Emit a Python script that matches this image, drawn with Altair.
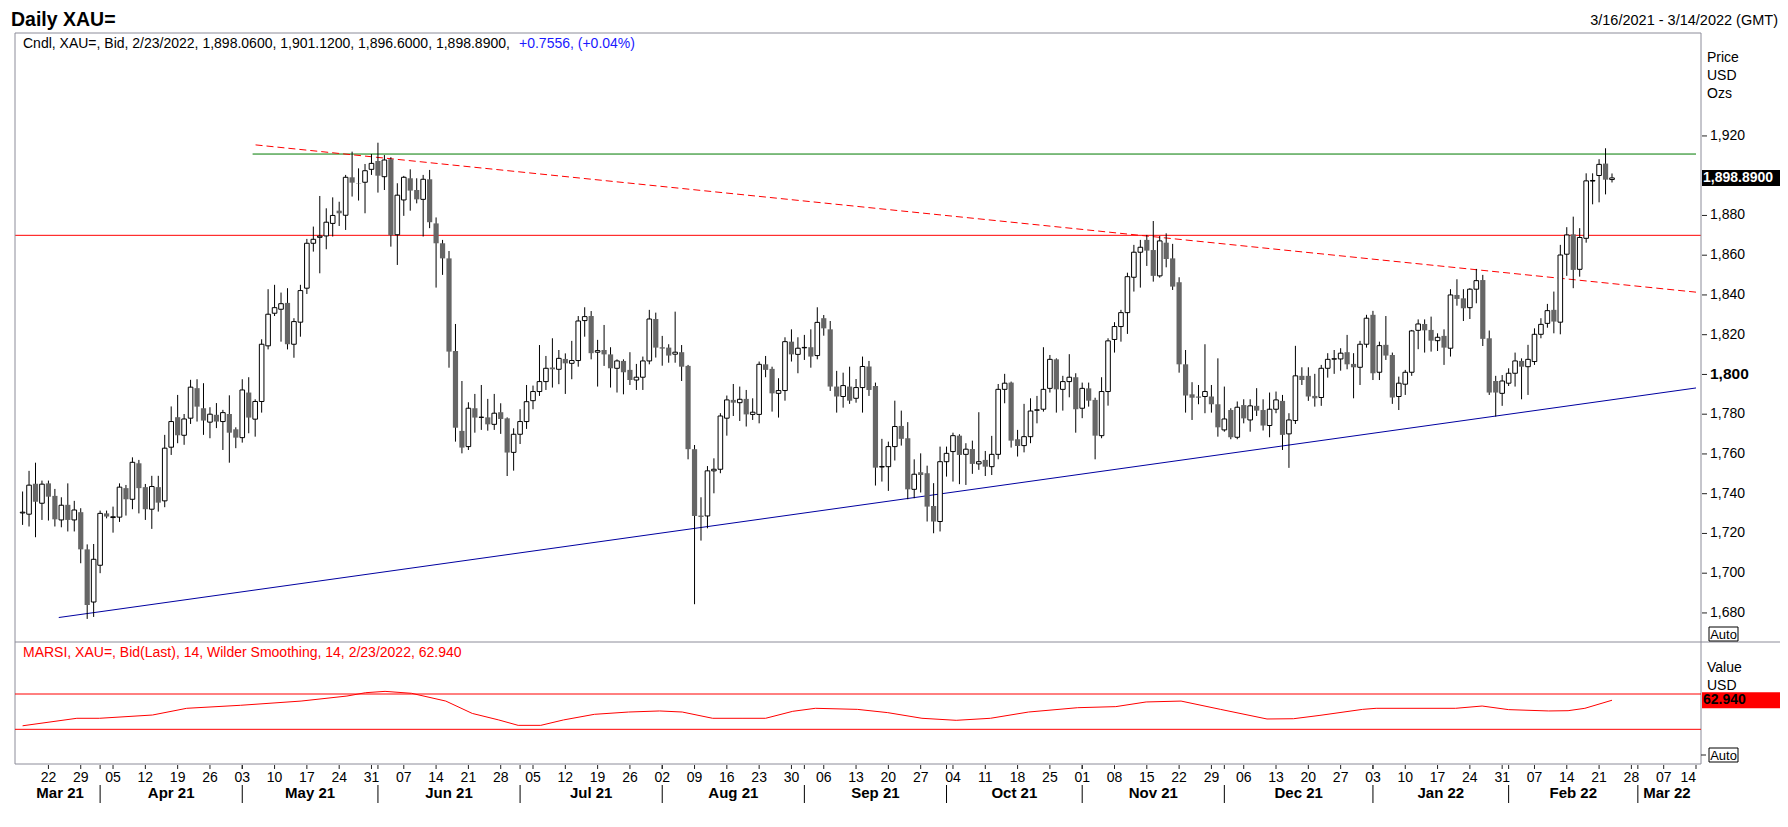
import altair as alt
import pandas as pd

FONT = "Liberation Sans"
FRAME = "#8c8c99"

# ---------------- data ----------------
opens = [
    1730.3, 1729.7, 1745.0, 1735.2, 1745.2, 1738.9, 1726.8, 1734.4, 1726.8, 1730.7,
    1712.0, 1685.5, 1704.0, 1730.1, 1728.0, 1728.2, 1742.8, 1737.2, 1755.3, 1743.3,
    1732.2, 1743.3, 1736.4, 1763.4, 1778.5, 1769.4, 1778.0, 1793.1, 1783.0, 1776.0,
    1779.7, 1776.3, 1780.1, 1772.4, 1768.2, 1790.9, 1777.5, 1786.4, 1814.4, 1830.8,
    1832.8, 1836.0, 1815.2, 1826.3, 1843.4, 1866.0, 1869.0, 1869.7, 1876.0, 1882.4,
    1880.1, 1899.2, 1896.2, 1896.7, 1903.2, 1907.4, 1899.5, 1908.3, 1870.3, 1887.8,
    1898.7, 1892.8, 1888.1, 1898.2, 1876.0, 1866.0, 1858.4, 1811.8, 1771.6, 1763.7,
    1783.0, 1778.4, 1778.4, 1774.9, 1781.0, 1777.9, 1760.8, 1769.9, 1776.3, 1786.8,
    1791.4, 1796.4, 1803.5, 1802.6, 1807.8, 1805.6, 1807.0, 1827.1, 1829.4, 1811.2,
    1812.3, 1810.1, 1803.1, 1806.8, 1802.3, 1797.2, 1798.6, 1806.8, 1827.9, 1813.7,
    1813.5, 1810.2, 1811.2, 1804.3, 1762.4, 1729.0, 1728.8, 1751.5, 1752.3, 1778.0,
    1787.2, 1785.8, 1787.7, 1779.9, 1779.9, 1805.1, 1802.8, 1790.5, 1791.9, 1816.5,
    1810.1, 1813.4, 1813.7, 1809.5, 1828.3, 1822.7, 1793.9, 1788.9, 1793.9, 1788.0,
    1793.4, 1804.0, 1794.2, 1753.4, 1753.6, 1763.7, 1774.1, 1767.9, 1742.2, 1750.8,
    1750.3, 1733.8, 1726.0, 1756.1, 1761.2, 1769.2, 1759.8, 1762.5, 1755.0, 1757.0,
    1753.6, 1759.8, 1792.5, 1795.9, 1767.4, 1764.2, 1768.7, 1782.0, 1782.5, 1793.0,
    1807.6, 1792.5, 1796.4, 1798.6, 1783.0, 1793.0, 1787.2, 1769.2, 1791.4, 1817.6,
    1824.1, 1831.1, 1848.9, 1861.5, 1867.7, 1862.6, 1849.6, 1866.3, 1858.4, 1846.4,
    1805.1, 1790.0, 1788.9, 1788.9, 1788.9, 1785.0, 1772.1, 1782.1, 1768.4, 1784.6,
    1777.1, 1784.2, 1782.1, 1774.3, 1782.5, 1786.7, 1770.1, 1776.8, 1799.3, 1799.3,
    1789.2, 1788.4, 1803.1, 1807.7, 1807.8, 1811.2, 1805.3, 1803.6, 1815.2, 1830.0,
    1801.1, 1814.9, 1809.8, 1788.9, 1795.1, 1801.1, 1822.2, 1825.4, 1822.4, 1817.0,
    1819.4, 1813.2, 1840.0, 1838.3, 1833.6, 1842.9, 1847.5, 1818.2, 1796.7, 1790.5,
    1795.6, 1800.6, 1806.8, 1803.9, 1806.5, 1820.2, 1825.7, 1832.5, 1826.3, 1860.5,
    1870.5, 1852.9, 1868.5, 1897.3, 1900.1, 1906.1, 1898.06,
]
highs = [
    1741.1, 1751.5, 1755.6, 1746.6, 1746.6, 1742.4, 1738.2, 1745.2, 1736.4, 1732.7,
    1714.5, 1714.7, 1731.5, 1731.5, 1733.5, 1745.2, 1744.4, 1758.3, 1757.0, 1744.9,
    1749.0, 1749.0, 1769.6, 1783.9, 1789.7, 1780.1, 1797.3, 1797.6, 1795.6, 1783.5,
    1785.6, 1782.2, 1789.5, 1773.4, 1797.6, 1798.6, 1787.5, 1817.7, 1842.9, 1845.1,
    1841.2, 1843.4, 1828.3, 1845.1, 1868.2, 1874.4, 1889.8, 1883.6, 1889.1, 1886.9,
    1900.4, 1912.1, 1903.7, 1905.9, 1910.9, 1916.6, 1910.4, 1909.3, 1896.2, 1899.9,
    1903.2, 1898.7, 1900.4, 1902.9, 1879.0, 1867.7, 1862.1, 1825.4, 1796.7, 1786.0,
    1790.2, 1794.7, 1787.7, 1790.2, 1785.5, 1778.4, 1772.9, 1782.5, 1794.7, 1794.4,
    1814.8, 1809.3, 1818.2, 1812.3, 1810.6, 1816.9, 1829.4, 1833.8, 1831.9, 1817.4,
    1824.9, 1813.7, 1807.6, 1807.6, 1811.2, 1805.3, 1809.0, 1832.5, 1831.1, 1819.4,
    1815.2, 1831.6, 1814.8, 1804.8, 1764.5, 1738.2, 1753.9, 1757.8, 1780.5, 1789.4,
    1795.2, 1793.9, 1792.2, 1788.0, 1806.5, 1809.3, 1803.9, 1798.1, 1818.7, 1822.7,
    1818.7, 1819.9, 1822.7, 1833.8, 1829.9, 1826.9, 1801.8, 1800.9, 1803.9, 1797.7,
    1809.0, 1806.8, 1795.9, 1767.6, 1766.2, 1786.8, 1781.8, 1776.0, 1757.3, 1760.3,
    1754.1, 1745.3, 1763.7, 1763.7, 1770.7, 1769.9, 1765.4, 1766.7, 1781.0, 1761.5,
    1769.1, 1795.2, 1800.3, 1796.4, 1772.1, 1785.2, 1788.0, 1789.2, 1813.7, 1809.8,
    1808.1, 1799.3, 1810.2, 1800.6, 1795.9, 1795.9, 1788.3, 1798.6, 1818.2, 1826.3,
    1832.5, 1851.2, 1865.2, 1867.7, 1870.2, 1877.2, 1869.7, 1871.0, 1865.7, 1848.9,
    1812.3, 1796.1, 1794.7, 1815.2, 1794.7, 1808.1, 1793.9, 1783.0, 1786.4, 1787.5,
    1787.5, 1793.1, 1787.5, 1790.9, 1791.4, 1789.7, 1780.5, 1814.4, 1803.6, 1803.6,
    1800.3, 1804.8, 1810.7, 1812.3, 1813.2, 1819.9, 1810.7, 1816.9, 1830.0, 1832.0,
    1816.5, 1829.4, 1811.0, 1798.9, 1802.3, 1822.4, 1827.7, 1827.7, 1829.1, 1820.7,
    1822.7, 1842.9, 1847.9, 1842.9, 1843.4, 1853.1, 1850.1, 1822.1, 1799.3, 1799.7,
    1803.1, 1811.0, 1808.1, 1814.9, 1823.2, 1828.3, 1835.5, 1841.7, 1865.2, 1874.1,
    1879.4, 1873.6, 1901.2, 1901.2, 1908.3, 1913.8, 1901.12,
]
lows = [
    1724.3, 1723.5, 1718.1, 1726.8, 1726.5, 1723.5, 1723.1, 1721.0, 1721.0, 1705.0,
    1677.0, 1678.0, 1700.0, 1727.6, 1720.4, 1725.8, 1729.0, 1732.2, 1730.1, 1726.8,
    1722.3, 1731.0, 1733.2, 1759.5, 1765.4, 1764.6, 1775.1, 1776.3, 1769.6, 1767.9,
    1773.0, 1762.0, 1755.6, 1762.9, 1765.7, 1770.4, 1768.7, 1780.8, 1812.6, 1829.4,
    1816.5, 1812.6, 1808.4, 1819.0, 1840.5, 1861.8, 1850.9, 1863.0, 1869.4, 1874.7,
    1872.7, 1889.5, 1887.5, 1881.1, 1900.4, 1891.5, 1892.8, 1864.3, 1855.1, 1879.8,
    1882.4, 1886.1, 1869.4, 1873.6, 1843.7, 1850.1, 1803.4, 1766.2, 1760.3, 1762.0,
    1770.7, 1772.1, 1771.7, 1772.1, 1770.1, 1748.9, 1751.6, 1765.0, 1772.6, 1782.5,
    1789.2, 1792.2, 1793.4, 1795.1, 1790.2, 1797.6, 1803.9, 1819.0, 1807.6, 1793.9,
    1804.3, 1793.4, 1790.9, 1790.0, 1794.7, 1792.2, 1792.2, 1805.1, 1808.5, 1804.4,
    1805.9, 1805.9, 1796.7, 1757.3, 1684.4, 1716.4, 1722.6, 1740.2, 1750.3, 1769.2,
    1779.1, 1776.6, 1773.8, 1777.1, 1775.4, 1798.6, 1781.3, 1778.3, 1786.8, 1806.5,
    1800.6, 1807.3, 1803.4, 1807.6, 1819.5, 1791.7, 1780.8, 1783.3, 1785.2, 1785.8,
    1780.8, 1789.2, 1744.1, 1746.1, 1741.4, 1756.7, 1764.2, 1737.2, 1737.7, 1740.6,
    1726.0, 1720.1, 1721.0, 1748.6, 1746.1, 1744.8, 1744.4, 1750.0, 1752.0, 1748.9,
    1749.4, 1757.3, 1785.5, 1763.2, 1758.7, 1760.8, 1765.4, 1775.4, 1781.3, 1790.9,
    1780.8, 1781.8, 1788.5, 1770.7, 1778.0, 1783.8, 1757.3, 1767.9, 1784.3, 1811.0,
    1816.5, 1820.4, 1841.7, 1843.7, 1854.6, 1846.7, 1848.7, 1853.9, 1842.5, 1800.9,
    1780.8, 1777.1, 1785.0, 1780.5, 1780.8, 1768.7, 1771.2, 1767.4, 1767.4, 1775.4,
    1771.2, 1779.1, 1771.8, 1768.4, 1780.5, 1762.0, 1753.0, 1775.1, 1794.7, 1786.7,
    1783.8, 1784.2, 1798.4, 1800.3, 1801.9, 1802.6, 1788.0, 1794.7, 1813.5, 1797.2,
    1797.2, 1807.3, 1785.2, 1782.1, 1789.7, 1799.3, 1812.7, 1811.0, 1811.5, 1811.8,
    1804.8, 1809.0, 1834.6, 1826.9, 1827.9, 1835.8, 1814.3, 1789.7, 1778.8, 1784.2,
    1794.2, 1793.9, 1787.5, 1789.7, 1804.8, 1818.2, 1823.5, 1820.7, 1820.2, 1849.6,
    1843.4, 1849.2, 1866.3, 1885.6, 1886.6, 1890.6, 1896.6,
]
closes = [
    1730.7, 1744.3, 1736.0, 1744.8, 1738.5, 1727.1, 1734.2, 1726.8, 1731.8, 1712.0,
    1684.0, 1707.0, 1730.1, 1728.5, 1728.4, 1743.3, 1737.2, 1755.8, 1742.8, 1732.2,
    1743.6, 1735.5, 1762.9, 1776.3, 1769.4, 1777.6, 1793.6, 1783.8, 1776.8, 1780.0,
    1776.3, 1780.8, 1770.7, 1768.2, 1792.2, 1778.3, 1786.4, 1815.2, 1830.3, 1833.6,
    1835.6, 1815.2, 1826.6, 1842.2, 1866.0, 1868.0, 1869.6, 1876.6, 1880.0, 1881.1,
    1899.2, 1896.5, 1896.0, 1902.5, 1906.2, 1900.0, 1907.9, 1870.0, 1890.2, 1899.2,
    1892.5, 1888.1, 1898.2, 1876.6, 1866.0, 1858.4, 1811.5, 1773.2, 1763.2, 1783.0,
    1778.3, 1778.5, 1774.9, 1780.5, 1777.6, 1760.7, 1769.9, 1776.3, 1786.3, 1791.4,
    1796.4, 1803.1, 1802.6, 1808.1, 1805.6, 1807.0, 1826.9, 1829.1, 1810.7, 1812.0,
    1810.1, 1803.1, 1806.8, 1801.1, 1797.2, 1798.6, 1806.8, 1827.9, 1813.5, 1813.0,
    1809.5, 1811.2, 1803.9, 1762.4, 1728.8, 1728.3, 1751.5, 1752.3, 1779.1, 1787.2,
    1785.8, 1787.5, 1779.9, 1781.0, 1805.1, 1802.3, 1790.5, 1791.9, 1816.5, 1810.1,
    1813.2, 1813.6, 1809.0, 1826.2, 1823.2, 1793.9, 1788.9, 1794.4, 1786.8, 1793.4,
    1804.0, 1792.2, 1753.1, 1753.7, 1763.7, 1773.8, 1767.6, 1742.2, 1749.8, 1749.4,
    1733.5, 1726.0, 1756.1, 1760.3, 1769.2, 1759.5, 1762.4, 1755.0, 1756.1, 1753.6,
    1759.8, 1792.5, 1795.6, 1766.7, 1764.0, 1768.7, 1781.6, 1782.2, 1792.5, 1807.6,
    1792.5, 1796.4, 1798.6, 1782.5, 1793.0, 1786.8, 1769.2, 1791.4, 1816.9, 1824.1,
    1831.1, 1849.2, 1861.5, 1864.0, 1862.3, 1849.6, 1867.2, 1858.1, 1844.2, 1805.1,
    1789.4, 1788.3, 1788.3, 1791.4, 1785.0, 1773.4, 1777.6, 1768.4, 1783.5, 1777.9,
    1784.2, 1781.8, 1774.3, 1782.5, 1787.2, 1769.6, 1777.1, 1799.3, 1797.2, 1788.9,
    1788.0, 1803.1, 1807.6, 1807.9, 1810.7, 1805.1, 1803.6, 1815.2, 1828.3, 1800.6,
    1814.5, 1809.5, 1788.4, 1795.6, 1801.1, 1821.9, 1825.4, 1822.2, 1817.0, 1818.7,
    1813.5, 1840.0, 1838.0, 1833.3, 1842.9, 1847.2, 1817.9, 1790.9, 1790.9, 1796.7,
    1800.6, 1806.8, 1803.9, 1807.6, 1820.2, 1825.2, 1832.1, 1826.6, 1860.1, 1870.2,
    1852.6, 1868.9, 1897.4, 1897.6, 1905.7, 1898.0, 1898.89,
]

# MARSI (smoothed RSI) points: trading-day index / value
rsi_idx = [0, 8.4, 11.9, 20.1, 25.4, 33.7, 43.1, 50.2, 53.1, 56.1, 60.2, 65.5, 69.6,
           73.7, 76.7, 80.2, 83.7, 88.5, 93.8, 98.6, 102.1, 106.8, 111.5, 115.0, 119.2,
           122.7, 129.2, 133.9, 139.2, 144.5, 149.8, 155.7, 163.3, 169.2, 173.9, 179.3,
           185.4, 192.6, 196.7, 200.8, 207.4, 209.5, 221.8, 225.9, 230.0, 236.2, 239.2,
           241.8, 246]
rsi_val = [34.0, 42.5, 42.5, 46.2, 53.8, 57.2, 62.0, 67.7, 71.5, 73.0, 70.8, 62.0, 48.0,
           40.6, 34.5, 34.5, 40.6, 47.0, 49.6, 50.8, 49.6, 42.5, 42.5, 42.5, 50.4,
           53.8, 52.6, 48.9, 42.5, 40.2, 42.5, 49.6, 54.5, 55.7, 61.0, 62.0,
           52.6, 41.7, 42.0, 45.8, 52.6, 53.8, 53.8, 56.4, 52.3, 50.8, 51.1,
           53.8, 62.94]

price_ticks = [1680, 1700, 1720, 1740, 1760, 1780, 1800, 1820, 1840, 1860, 1880, 1900, 1920]
bold_tick = 1800
resistance_level = 1870
top_level = 1910.9
support_x, support_y = [5.6, 259], [1677.7, 1793.2]
falling_x, falling_y = [36.06, 259], [1915.5, 1841.4]
top_x = [35.6, 259]
rsi_levels = [70, 30]
last_close = 1898.89
last_rsi = 62.94

# trading-day calendar of the chart window 3/16/2021 - 3/14/2022
dates = pd.bdate_range("2021-03-16", "2022-03-14")
X_MIN, X_MAX = -0.4, len(dates) - 1
day_tick_idx = [i for i, d in enumerate(dates) if d.weekday() == 0]
day_tick_lab = [dates[i].strftime("%d") for i in day_tick_idx]
month_start_idx = [i for i in range(1, len(dates)) if dates[i].month != dates[i - 1].month]
month_names = [dates[0].strftime("%b %y")] + [dates[i].strftime("%b %y") for i in month_start_idx]
bounds = [X_MIN] + month_start_idx + [X_MAX]
month_mid = [(bounds[k] + bounds[k + 1]) / 2 for k in range(len(month_names))]

candles = pd.DataFrame({"i": list(range(len(opens))), "o": opens, "h": highs, "l": lows, "c": closes})

# ---------------- scales ----------------
W, H = 1686, 731
xscale = alt.Scale(domain=[X_MIN, X_MAX], nice=False, zero=False)
pscale = alt.Scale(domain=[1604.0, 1971.8], nice=False, zero=False)
rscale = alt.Scale(domain=[-9.3, 819.0], nice=False, zero=False)


def X(f):
    return alt.X(f, scale=xscale, axis=None)


def PY(f):
    return alt.Y(f, scale=pscale, axis=None)


def RY(f):
    return alt.Y(f, scale=rscale, axis=None)


def one(**kw):
    return pd.DataFrame({k: [v] for k, v in kw.items()}) if kw else pd.DataFrame({"a": [0]})


def txt(s, x, y, size=14, color="black", weight="normal", align="left", baseline="middle"):
    return alt.Chart(one(t=s)).mark_text(align=align, baseline=baseline, fontSize=size, color=color,
                                          fontWeight=weight, font=FONT).encode(
        x=alt.value(x), y=alt.value(y), text="t:N")


def prule(x, x2, y, y2=None, color=FRAME, width=1):
    enc = dict(x=alt.value(x), y=alt.value(y))
    if x2 is not None:
        enc["x2"] = alt.value(x2)
    if y2 is not None:
        enc["y2"] = alt.value(y2)
    return alt.Chart(one()).mark_rule(color=color, strokeWidth=width).encode(**enc)


# ---------------- price panel ----------------
wicks = alt.Chart(candles).mark_rule(color="black", strokeWidth=1).encode(
    x=X("i:Q"), y=PY("l:Q"), y2="h:Q")
up = alt.Chart(candles).transform_filter("datum.c >= datum.o").mark_bar(
    size=4.6, fill="white", stroke="black", strokeWidth=1).encode(x=X("i:Q"), y=PY("o:Q"), y2="c:Q")
down = alt.Chart(candles).transform_filter("datum.c < datum.o").mark_bar(
    size=5.2, fill="#666666").encode(x=X("i:Q"), y=PY("o:Q"), y2="c:Q")

res_line = alt.Chart(one(y=resistance_level)).mark_rule(color="#ff0000", strokeWidth=1).encode(y=PY("y:Q"))
top_line = alt.Chart(pd.DataFrame({"x": top_x, "y": [top_level, top_level]})).mark_line(
    color="#007a00", strokeWidth=1).encode(x=X("x:Q"), y=PY("y:Q"))
support = alt.Chart(pd.DataFrame({"x": support_x, "y": support_y})).mark_line(
    color="#0000a0", strokeWidth=1).encode(x=X("x:Q"), y=PY("y:Q"))
falling = alt.Chart(pd.DataFrame({"x": falling_x, "y": falling_y})).mark_line(
    color="#ff0000", strokeWidth=1, strokeDash=[7, 4]).encode(x=X("x:Q"), y=PY("y:Q"))

# price scale ticks + labels (right side); the label under the last-price box is hidden
ptick_df = pd.DataFrame({"p": price_ticks, "lab": [f"{p:,}" for p in price_ticks]})
p_ticks = alt.Chart(ptick_df).mark_rule(color="#222222", strokeWidth=1).encode(
    x=alt.value(W + 1), x2=alt.value(W + 6), y=PY("p:Q"))
p_labs = alt.Chart(ptick_df).transform_filter(
    f"datum.p != {bold_tick} && abs(datum.p - {last_close}) > 8").mark_text(
    align="left", baseline="middle", fontSize=14, font=FONT, color="black").encode(
    x=alt.value(W + 9), y=PY("p:Q"), text="lab:N")
p_lab_bold = alt.Chart(ptick_df).transform_filter(f"datum.p == {bold_tick}").mark_text(
    align="left", baseline="middle", fontSize=15.5, fontWeight="bold", font=FONT, color="black").encode(
    x=alt.value(W + 9), y=PY("p:Q"), text="lab:N")

last_box = alt.Chart(one(v=last_close)).mark_rule(color="black", strokeWidth=16, strokeCap="butt").encode(
    x=alt.value(W + 1), x2=alt.value(W + 79), y=PY("v:Q"))
last_txt = alt.Chart(one(v=last_close, t=f"{last_close:,.4f}")).mark_text(
    align="left", baseline="middle", color="white", fontWeight="bold", fontSize=14, font=FONT).encode(
    x=alt.value(W + 2), y=PY("v:Q"), text="t:N")

# date axis: Monday ticks + day numbers, month names and separators
day_df = pd.DataFrame({"d": day_tick_idx, "lab": day_tick_lab})
d_ticks = alt.Chart(day_df).mark_rule(color="#222222", strokeWidth=1).encode(
    x=X("d:Q"), y=alt.value(H + 1), y2=alt.value(H + 5))
d_labs = alt.Chart(day_df).transform_filter(f"datum.d < {X_MAX}").mark_text(
    align="center", baseline="middle", fontSize=14, font=FONT, color="black").encode(
    x=X("d:Q"), y=alt.value(H + 14), text="lab:N")
d_last = alt.Chart(day_df).transform_filter(f"datum.d >= {X_MAX}").mark_text(
    align="right", baseline="middle", fontSize=14, font=FONT, color="black").encode(
    x=X("d:Q"), y=alt.value(H + 14), text="lab:N")

month_df = pd.DataFrame({"mid": month_mid, "name": month_names})
month_txt = alt.Chart(month_df).mark_text(fontSize=15, fontWeight="bold", font=FONT, baseline="middle",
                                          color="black").encode(x=X("mid:Q"), y=alt.value(H + 29), text="name:N")
sep_df = pd.DataFrame({"ms": month_start_idx})
month_sep = alt.Chart(sep_df).mark_rule(color="black", strokeWidth=1).encode(
    x=X("ms:Q"), y=alt.value(H + 21), y2=alt.value(H + 39))
month_tick = alt.Chart(sep_df).mark_rule(color="#222222", strokeWidth=1).encode(
    x=X("ms:Q"), y=alt.value(H + 1), y2=alt.value(H + 5))

auto_box1 = alt.Chart(one()).mark_rect(fill="white", stroke="black", strokeWidth=1).encode(
    x=alt.value(W + 8), x2=alt.value(W + 37), y=alt.value(594), y2=alt.value(608))
auto_box2 = alt.Chart(one()).mark_rect(fill="white", stroke="black", strokeWidth=1).encode(
    x=alt.value(W + 8), x2=alt.value(W + 37), y=alt.value(715), y2=alt.value(729))

frame = [
    prule(0, W, 0),                     # top border
    prule(0, W, H),                     # bottom border
    prule(0, None, 0, H),               # left border
    prule(W, None, 0, H),               # right border
    prule(0, W + 79, 609),              # separator between panels
    prule(W, W + 5, 722, color="#222222"),
]

texts = [
    txt("Daily XAU=", -4, -7.3, size=19.5, weight="bold", baseline="alphabetic"),
    txt("3/16/2021 - 3/14/2022 (GMT)", W + 77, -12, size=14.5, align="right"),
    txt("Cndl, XAU=, Bid, 2/23/2022, 1,898.0600, 1,901.1200, 1,896.6000, 1,898.8900, ", 8, 11),
    txt("+0.7556, (+0.04%)", 504, 11, color="#1a1aff"),
    txt("MARSI, XAU=, Bid(Last),  14, Wilder Smoothing, 14, 2/23/2022, 62.940", 8, 620, color="#ff0000"),
    txt("Price", W + 6, 25), txt("USD", W + 6, 43), txt("Ozs", W + 6, 61),
    txt("Value", W + 6, 635), txt("USD", W + 6, 653),
    txt("Auto", W + 22.5, 601.5, size=13, align="center"),
    txt("Auto", W + 22.5, 722.5, size=13, align="center"),
]

price_group = alt.layer(
    res_line, top_line, support, falling, wicks, up, down,
    p_ticks, p_labs, p_lab_bold,
    d_ticks, d_labs, d_last, month_sep, month_tick, month_txt,
    *frame, auto_box1, auto_box2, *texts,
    last_box, last_txt,
)

# ---------------- RSI panel ----------------
rsi_lvl = alt.Chart(pd.DataFrame({"y": rsi_levels})).mark_rule(color="#ff0000", strokeWidth=1).encode(y=RY("y:Q"))
rsi_line = alt.Chart(pd.DataFrame({"x": rsi_idx, "v": rsi_val})).mark_line(
    color="#ff0000", strokeWidth=1).encode(x=X("x:Q"), y=RY("v:Q"))
rsi_box = alt.Chart(one(v=last_rsi)).mark_rule(color="#ff0000", strokeWidth=16, strokeCap="butt").encode(
    x=alt.value(W + 1), x2=alt.value(W + 79), y=RY("v:Q"))
rsi_txt = alt.Chart(one(v=last_rsi, t=f"{last_rsi:.3f}")).mark_text(
    align="left", baseline="middle", color="black", fontWeight="bold", fontSize=14, font=FONT).encode(
    x=alt.value(W + 2), y=RY("v:Q"), text="t:N")
rsi_group = alt.layer(rsi_lvl, rsi_line, rsi_box, rsi_txt)

chart = alt.layer(price_group, rsi_group).resolve_scale(y="independent").properties(
    width=W, height=H,
    padding={"left": 7, "top": 25, "right": 79, "bottom": 48},
    autosize=alt.AutoSizeParams(type="none"),
    background="white",
).configure_view(stroke=None)

chart.save("out.html", embed_options={"renderer": "svg", "actions": False})
